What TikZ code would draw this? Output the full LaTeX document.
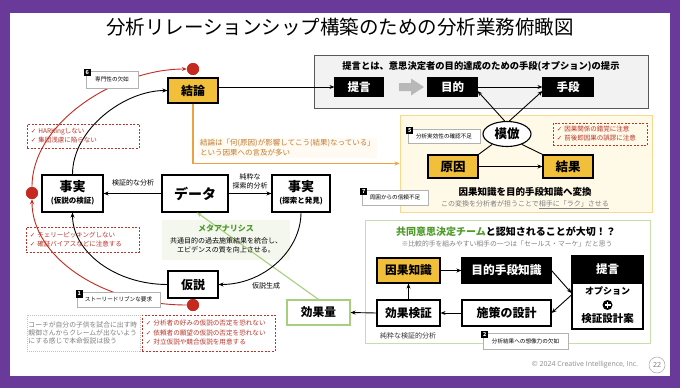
\documentclass[tikz,border=0pt]{standalone}
\usepackage{fontspec}
\setmainfont{Noto Sans CJK JP}
\newfontfamily\djv{DejaVu Sans}
\newfontfamily\osans{Open Sans}
\usetikzlibrary{arrows.meta,shapes.geometric,calc}
\definecolor{purp}{HTML}{6A3A9B}
\definecolor{gold}{HTML}{F2BF3A}
\definecolor{redc}{HTML}{B8352A}
\definecolor{dotred}{HTML}{C62A1E}
\definecolor{orl}{HTML}{EDA33C}
\definecolor{notec}{HTML}{C47A30}
\definecolor{notef}{HTML}{FFFBF3}
\definecolor{ypf}{HTML}{FFF9E8}
\definecolor{ypb}{HTML}{F7D891}
\definecolor{gpb}{HTML}{C6DFAA}
\definecolor{greent}{HTML}{4E9A2A}
\definecolor{gline}{HTML}{A8CF7E}
\definecolor{metaf}{HTML}{F4F7EE}
\definecolor{topf}{HTML}{F2F2F2}
\definecolor{topb}{HTML}{595959}
\definecolor{txtg}{HTML}{7F7F7F}
\newcommand{\fsz}[2]{\fontsize{#1}{#2}\selectfont}
\newcommand{\ckm}{{\djv ✓}\hspace{2pt}}
\begin{document}
\begin{tikzpicture}[x=1pt,y=-1pt,
 bx/.style={draw=black, line width=1.1pt, fill=white, inner sep=0pt, font=\bfseries\fsz{12}{14}},
 gbx/.style={bx, fill=gold},
 kbx/.style={bx, fill=black, text=white},
 lb/.style={draw=black!30, fill=white, line width=0.5pt, inner sep=0pt, font=\fsz{5.6}{6}},
 num/.style={fill=black, text=white, inner sep=0pt, minimum width=7pt, minimum height=7.5pt, font=\bfseries\fsz{5.5}{6}},
 chkbox/.style={draw=redc, dash pattern=on 2pt off 1.5pt, line width=0.55pt, inner sep=0pt},
 chktxt/.style={anchor=west, text=redc, align=left, inner sep=0pt},
 arr/.style={-{Stealth[length=5pt,width=4pt]}, line width=0.9pt},
 rarr/.style={-{Stealth[length=5pt,width=4pt]}, line width=0.9pt, draw=dotred},
 rdot/.style={circle, fill=dotred, minimum size=12pt, inner sep=0pt},
 smlbl/.style={font=\fsz{7}{8.5}, align=center, inner sep=0pt},
]
% background
\fill[purp] (0,0) rectangle (680,388);
\fill[white] (9.5,13) rectangle (670,376);
\useasboundingbox (0,0) rectangle (680,388);

\node[font=\fsz{19.5}{20}] (title) at (340,27) {分析リレーションシップ構築のための分析業務俯瞰図};

% ---------- top box ----------
\node[draw=topb, fill=topf, line width=0.9pt, minimum width=334pt, minimum height=53pt, inner sep=0pt] (topbox) at (481,81.5) {};
\node[font=\bfseries\fsz{9.3}{10}] (toptxt) at (481,66) {提言とは、意思決定者の目的達成のための手段(オプション)の提示};
\node[kbx, minimum width=48pt, minimum height=18pt, font=\bfseries\fsz{11.5}{12}] (teigen) at (359,87) {提言};
\node[kbx, minimum width=49pt, minimum height=18pt, font=\bfseries\fsz{11.5}{12}] (mokuteki) at (452.5,87) {目的};
\node[kbx, minimum width=50pt, minimum height=18pt, font=\bfseries\fsz{11.5}{12}] (shudan) at (568,87) {手段};
\fill[black!28] (399,83) -- (411,83) -- (411,78.5) -- (424,87) -- (411,95.5) -- (411,91) -- (399,91) -- cycle;
\draw[arr] (mokuteki.east) -- (shudan.west);

% ---------- yellow panel ----------
\node[draw=ypb, fill=ypf, line width=1pt, minimum width=252pt, minimum height=97pt, inner sep=0pt] (ypanel) at (526,163.5) {};
\node[draw, ellipse, line width=1.1pt, fill=white, minimum width=48pt, minimum height=25pt, inner sep=0pt, font=\bfseries\fsz{12.5}{13}] (mohou) at (507,134) {模倣};
\node[gbx, minimum width=50pt, minimum height=23pt, font=\bfseries\fsz{12.5}{13}] (gen) at (453,166.5) {原因};
\node[gbx, minimum width=50pt, minimum height=23pt, font=\bfseries\fsz{12.5}{13}] (kekka) at (568,166.5) {結果};
\draw[arr] (gen.east) -- (kekka.west);
\draw[arr] (mohou.100) -- ($(mokuteki.east)+(0,4)$);
\draw[arr] (mohou.80) -- ($(shudan.west)+(0,4)$);
\draw[line width=0.9pt] (gen.north east) -- (mohou.215);
\draw[line width=0.9pt] (mohou.325) -- (kekka.north west);
\node[font=\bfseries\fsz{9.5}{10}] (henkan) at (525,192) {因果知識を目的手段知識へ変換};
\node[font=\fsz{7}{8}, text=txtg] (henkan2) at (525,205) {この変換を分析者が担うことで\underline{相手に「ラク」させる}};
\node[chkbox, minimum width=94pt, minimum height=22pt] (chkD) at (600,134) {};
\node[chktxt, font=\fsz{6.5}{9}] (chkDt) at ($(chkD.west)+(4,0)$) {\ckm 因果関係の錯覚に注意\\\ckm 前後即因果の誤謬に注意};
\node[lb, minimum width=72pt, minimum height=14pt] (l5) at (444,136) {分析実効性の確認不足};
\node[num] (n5) at ($(l5.north west)+(2,1.5)$) {5};

% ---------- green panel ----------
\node[draw=gpb, line width=1pt, fill=white, minimum width=285pt, minimum height=123pt, inner sep=0pt] (gpanel) at (507.5,281.5) {};
\node[font=\bfseries\fsz{10}{11}] (gtitle) at (506,232) {{\color{greent}共同意思決定チーム}と認知されることが大切！？};
\node[font=\fsz{6.8}{7}, text=txtg] (gsub) at (507,244) {※比較的手を組みやすい相手の一つは「セールス・マーケ」だと思う};
\node[gbx, minimum width=63pt, minimum height=25pt, font=\bfseries\fsz{11.7}{12}] (inga) at (408.5,270.5) {因果知識};
\node[kbx, minimum width=89pt, minimum height=25pt, font=\bfseries\fsz{11.7}{12}] (mokushu) at (506.5,270.5) {目的手段知識};
\node[bx, minimum width=71pt, minimum height=46pt] (teigenB) at (607.5,306) {};
\node[kbx, minimum width=71pt, minimum height=27pt, font=\bfseries\fsz{11.5}{12}] (teigenR) at (607.5,269.5) {提言};
\node[font=\bfseries\fsz{9}{10}] (opt) at (607.5,291) {オプション};
\node[circle, fill=black, minimum size=10pt, inner sep=0pt] (plus) at (607.5,305) {};
\draw[white, line width=1.4pt] ($(plus.center)+(-3,0)$) -- ($(plus.center)+(3,0)$) ($(plus.center)+(0,-3)$) -- ($(plus.center)+(0,3)$);
\node[font=\bfseries\fsz{10.5}{11}] (kenshou) at (607.5,319) {検証設計案};
\node[bx, minimum width=89pt, minimum height=26pt] (shisaku) at (506.5,313) {施策の設計};
\node[bx, minimum width=63pt, minimum height=26pt, font=\bfseries\fsz{11.7}{12}] (kouka) at (408.5,313) {効果検証};
\node[draw=gline, line width=1.1pt, fill=white, minimum width=63pt, minimum height=25pt, inner sep=0pt, font=\bfseries\fsz{11.7}{12}] (kokaryo) at (318.5,312.5) {効果量};
\draw[arr] (inga.east) -- (mokushu.west);
\draw[arr] (mokushu.east) -- ($(teigenB.west)+(0,-13)$);
\draw[arr] ($(teigenB.west)+(0,-11)$) -- (shisaku.east);
\draw[arr] (shisaku.west) -- (kouka.east);
\draw[arr] (kouka.west) -- (kokaryo.east);
\draw[arr] (kouka.north) -- (inga.south);
\node[font=\fsz{7}{8}, text=black!80] (junsui) at (408,336) {純粋な検証的分析};
\node[lb, minimum width=85pt, minimum height=16pt] (l2) at (525.5,341) {分析結果への想像力の欠如};
\node[num] (n2) at ($(l2.north west)+(2,1.5)$) {2};

% ---------- left part ----------
\node[fill=metaf, minimum width=128pt, minimum height=40pt, inner sep=0pt] (meta) at (226,240) {};
\node[gbx, minimum width=50pt, minimum height=25pt] (ketsuron) at (193,90.5) {結論};
\node[bx, minimum width=61pt, minimum height=37pt] (jijitsuL) at (72.5,193.5) {};
\node[font=\bfseries\fsz{13}{14}] (jjLt) at (72.5,187) {事実};
\node[font=\bfseries\fsz{7.5}{8}] (jjLs) at (72.5,201.5) {(仮説の検証)};
\node[bx, minimum width=66pt, minimum height=37pt, font=\bfseries\fsz{14}{15}] (data) at (195,193.5) {データ};
\node[bx, minimum width=58pt, minimum height=37pt] (jijitsuR) at (301,193.5) {};
\node[font=\bfseries\fsz{13}{14}] (jjRt) at (301,187) {事実};
\node[font=\bfseries\fsz{7.5}{8}] (jjRs) at (301,201.5) {(探索と発見)};
\node[bx, minimum width=50pt, minimum height=27pt] (kasetsu) at (193,284.5) {仮説};

\draw[gline, line width=1.1pt, -{Stealth[length=5pt,width=4pt]}] (kokaryo.north) -- ($(data.south)+(2,0)$);
\node[font=\bfseries\fsz{8}{9}, text=greent] (metah) at (226,228) {メタアナリシス};
\node[font=\fsz{7}{9.2}, align=center] (metat) at (226,245.5) {共通目的の過去施策結果を統合し、\\エビデンスの質を向上させる。};

\draw[arr] (ketsuron.east |- teigen.west) -- (teigen.west);
\draw[orl, line width=1.2pt, -{Stealth[length=5pt,width=4pt]}] (ketsuron.south) |- (ypanel.west);
\node[anchor=west, align=left, font=\fsz{7.5}{10}, text=notec, fill=notef, inner xsep=2pt, inner ysep=2pt] (note) at (198,148) {結論は「何(原因)が影響してこう(結果)なっている」\\という因果への言及が多い};

\draw[arr] (data.west) -- (jijitsuL.east);
\node[smlbl] (lblA) at (133,183) {検証的な分析};
\draw[arr] (data.east) -- (jijitsuR.west);
\node[smlbl] (lblB) at (250,181.5) {純粋な\\探索的分析};
\draw[arr] (jijitsuR.south) .. controls (301,250.5) and (263.7,284.5) .. (kasetsu.east);
\node[smlbl] (lblC) at (266,286) {仮説生成};
\draw[arr] (kasetsu.west) .. controls (115.5,284.5) and (72.5,252) .. (jijitsuL.south);
\draw[arr] (jijitsuL.north) .. controls (72.5,128.5) and (125,90.5) .. (ketsuron.west);

% checklists
\node[chkbox, minimum width=112pt, minimum height=24pt] (chkA) at (83,136) {};
\node[chktxt, font=\fsz{6.5}{9}] (chkAt) at ($(chkA.west)+(4,0)$) {\ckm HARKingしない\\\ckm 集団浅慮に陥らない};
\node[chkbox, minimum width=113pt, minimum height=25pt] (chkB) at (82.5,239.5) {};
\node[chktxt, font=\fsz{6.5}{9}] (chkBt) at ($(chkB.west)+(4,0)$) {\ckm チェリーピッキングしない\\\ckm 確証バイアスなどに注意する};
\node[chkbox, minimum width=133pt, minimum height=36pt] (chkC) at (208.5,333) {};
\node[chktxt, font=\fsz{6.6}{9.5}] (chkCt) at ($(chkC.west)+(4,0)$) {\ckm 分析者の好みの仮説の否定を恐れない\\\ckm 依頼者の願望の仮説の否定を恐れない\\\ckm 対立仮説や競合仮説を用意する};
\node[draw=black!25, dash pattern=on 1pt off 1pt, line width=0.5pt, minimum width=113pt, minimum height=36pt, inner sep=0pt] (coach) at (83.5,333) {};
\node[anchor=west, align=left, inner sep=0pt, font=\fsz{6.8}{8.2}, text=txtg] (coacht) at ($(coach.west)+(1.5,0)$) {コーチが自分の子供を試合に出す時\\親御さんからクレームが出ないよう\\にする感じで本命仮説は扱う};

% red path
\node[rdot] (dotT) at (193,69) {};
\node[rdot] (dotL) at (32,193) {};
\node[rdot] (dotB) at (193,305) {};
\draw[rarr] (dotB.west) .. controls (102,305) and (32,257) .. (dotL.south);
\draw[rarr] (dotL.north) .. controls (32,122) and (117,69) .. (dotT.west);
\node[rdot] at (dotT) {};
\node[rdot] at (dotL) {};
\node[rdot] at (dotB) {};

% labels on top
\node[lb, minimum width=52pt, minimum height=17pt] (l6) at (112,79.5) {専門性の欠如};
\node[num] (n6) at ($(l6.north west)+(1.5,1.5)$) {6};
\node[lb, minimum width=83pt, minimum height=15pt] (l1) at (118.5,299.5) {ストーリードリブンな要求};
\node[num] (n1) at ($(l1.north west)+(2.5,2)$) {1};
\node[lb, minimum width=66pt, minimum height=15pt] (l7) at (395,197.5) {周囲からの信頼不足};
\node[num] (n7) at ($(l7.north west)+(2,1.5)$) {7};

% footer
\node[font=\osans\fsz{7}{8}, text=black!45] (copy) at (585,365) {© 2024 Creative Intelligence, Inc.};
\node[circle, draw=black!30, line width=0.6pt, minimum size=16pt, inner sep=0pt, font=\osans\fsz{7}{8}, text=black!55] (page) at (657,365) {22};
\end{tikzpicture}
\end{document}
